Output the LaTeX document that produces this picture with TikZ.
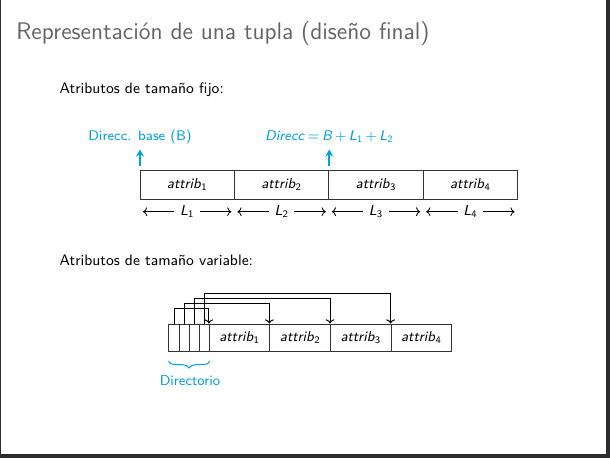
\documentclass[tikz,border=0pt]{standalone}
\usetikzlibrary{arrows.meta,decorations.pathreplacing}
\definecolor{frameedge}{RGB}{45,45,48}
\definecolor{titlegray}{RGB}{100,100,100}
\definecolor{cyanblue}{RGB}{0,160,225}
\newcommand{\att}[1]{\textsl{attrib}\textsubscript{#1}}
\newcommand{\Ln}[1]{\textsl{L}\textsubscript{#1}}
\newcommand{\dfont}{\sffamily\fontsize{8.6}{10}\selectfont}
\begin{document}
\begin{tikzpicture}[x=0.6pt,y=-0.6pt,font=\sffamily,
  cellf/.style={draw=black!80,line width=0.6pt,minimum width=56.64pt,minimum height=17pt,inner sep=0,font=\dfont},
  celld/.style={draw=black!80,line width=0.6pt,minimum width=6.05pt,minimum height=16.6pt,inner sep=0},
  cellv/.style={draw=black!80,line width=0.6pt,minimum width=36.36pt,minimum height=16.6pt,inner sep=0,font=\dfont},
  bodytext/.style={anchor=base west,inner sep=0,font=\sffamily\fontsize{9.1}{11}\selectfont},
  bluetext/.style={anchor=base,inner sep=0,text=cyanblue,font=\sffamily\fontsize{8.4}{10}\selectfont},
  bluearrow/.style={draw=cyanblue,line width=1.2pt,-{Stealth[length=4.2pt,width=4.8pt]}},
  lenarrow/.style={draw=black,line width=0.5pt,{To[length=2.5pt]}-{To[length=2.5pt]}},
  lenlabel/.style={fill=white,inner xsep=3.4pt,inner ysep=0.5pt,font=\dfont},
  ptr/.style={draw=black,line width=0.6pt,-{To[length=2.5pt]}}]
\useasboundingbox (0,0) rectangle (610,458);
\fill[frameedge] (0,0) rectangle (610,458);
\fill[white] (1.3,0) rectangle (606,454);
% title
\node[anchor=base west,inner sep=0,text=titlegray,font=\sffamily\fontsize{14.4}{17}\selectfont] (title) at (16,39.3) {Representación de una tupla (diseño final)};
% fixed
\node[bodytext] (fijo) at (59.3,93.3) {Atributos de tamaño fijo:};
\node[cellf] (c1) at (187.2,184.85) {\att{1}};
\node[cellf] (c2) at (281.6,184.85) {\att{2}};
\node[cellf] (c3) at (376.0,184.85) {\att{3}};
\node[cellf] (c4) at (470.4,184.85) {\att{4}};
\node[bluetext] (lb1) at (140,140.3) {Direcc. base (B)};
\node[bluetext] (lb2) at (329.3,140.3) {\textsl{Direcc}\hspace{0.2em}=\hspace{0.2em}\textsl{B}\hspace{0.17em}+\hspace{0.17em}\Ln{1}\hspace{0.17em}+\hspace{0.17em}\Ln{2}};
\coordinate (a1s) at (140,165.5);
\coordinate (a1e) at (140,149.5);
\coordinate (a2s) at (329.3,165.5);
\coordinate (a2e) at (329.3,149.5);
\draw[bluearrow] (a1s) -- (a1e);
\draw[bluearrow] (a2s) -- (a2e);
\foreach \i/\xl in {1/140,2/234.4,3/328.8,4/423.2}{
  \coordinate (la\i) at (\xl+3,211.7);
  \coordinate (lb\i) at (\xl+91.4,211.7);
  \draw[lenarrow] (la\i) -- node[lenlabel] {\Ln{\i}} (lb\i);
}
% variable
\node[bodytext] (var) at (59.3,265.7) {Atributos de tamaño variable:};
\node[celld] (d1) at (174.04,337.85) {};
\node[celld] (d2) at (184.12,337.85) {};
\node[celld] (d3) at (194.2,337.85) {};
\node[celld] (d4) at (204.28,337.85) {};
\node[cellv] (v1) at (239.6,337.85) {\att{1}};
\node[cellv] (v2) at (300.2,337.85) {\att{2}};
\node[cellv] (v3) at (360.8,337.85) {\att{3}};
\node[cellv] (v4) at (421.4,337.85) {\att{4}};
\draw[ptr] (d1.north) -- ++(0,-14.7) -| (v1.north west);
\draw[ptr] (d2.north) -- ++(0,-19.7) -| (v2.north west);
\draw[ptr] (d3.north) -- ++(0,-24.7) -| (v3.north west);
\draw[ptr] (d4.north) -- ++(0,-29.7) -| (v4.north west);
\draw[draw=cyanblue,line width=0.6pt,decorate,decoration={brace,mirror,amplitude=4pt,raise=0pt}] ([yshift=-5.5pt]d1.south west) -- ([yshift=-5.5pt]d4.south east);
\node[bluetext,font=\dfont] (dirlab) at (190,385) {Directorio};
\end{tikzpicture}
\end{document}
